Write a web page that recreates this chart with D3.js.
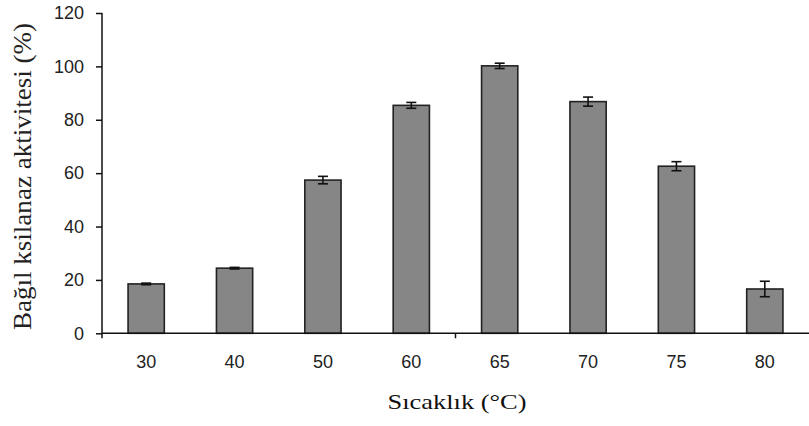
<!DOCTYPE html>
<html><head><meta charset="utf-8">
<script src="https://cdn.jsdelivr.net/npm/d3@7"></script>
<style>body{margin:0;background:#fff}</style>
</head><body>
<svg id="c" width="809" height="426"></svg>
<script>
const categories = ["30","40","50","60","65","70","75","80"];
const values = [18.5, 24.4, 57.4, 85.4, 100.2, 86.8, 62.6, 16.6];
const errors = [0.3, 0.3, 1.4, 1.1, 1.0, 1.7, 1.7, 2.9];
const yTicks = [0, 20, 40, 60, 80, 100, 120];
const xTitle = "Sıcaklık (°C)";
const yTitle = "Bağıl ksilanaz aktivitesi (%)";

const svg = d3.select("#c");
const L = 102, R = 809, T = 13, B = 333.3;
const x = d3.scaleBand().domain(categories).range([L, R]).paddingInner(0.59).paddingOuter(0.295);
const y = d3.scaleLinear().domain([0, 120]).range([B, T]);

// bars
svg.append("g").selectAll("rect").data(values).join("rect")
  .attr("x", (d,i) => x(categories[i]))
  .attr("y", d => y(d))
  .attr("width", x.bandwidth())
  .attr("height", d => y(0) - y(d))
  .attr("fill", "#868686").attr("stroke", "#222").attr("stroke-width", 1.6);

// error bars
const eb = svg.append("g").attr("stroke", "#111").attr("stroke-width", 1.6);
values.forEach((v,i) => {
  const cx = x(categories[i]) + x.bandwidth()/2;
  eb.append("line").attr("x1", cx).attr("x2", cx).attr("y1", y(v+errors[i])).attr("y2", y(v-errors[i]));
  eb.append("line").attr("x1", cx-5).attr("x2", cx+5).attr("y1", y(v+errors[i])).attr("y2", y(v+errors[i]));
  eb.append("line").attr("x1", cx-5).attr("x2", cx+5).attr("y1", y(v-errors[i])).attr("y2", y(v-errors[i]));
});

// y axis
const yAxis = d3.axisLeft(y).tickValues(yTicks).tickSize(6).tickPadding(12);
const gy = svg.append("g").attr("transform", `translate(${L},0)`).call(yAxis);
gy.select(".domain").remove();
gy.selectAll(".tick line").attr("stroke", "#111").attr("stroke-width", 1.5);
gy.selectAll("text").attr("font-family", "Liberation Sans, Arial, sans-serif").attr("font-size", 18).attr("fill", "#222");
svg.append("line").attr("x1", L).attr("x2", L).attr("y1", T).attr("y2", B + 5).attr("stroke", "#111").attr("stroke-width", 1.5);

// x axis
const xAxis = d3.axisBottom(x).tickSize(0).tickPadding(22);
const gx = svg.append("g").attr("transform", `translate(0,${B})`).call(xAxis);
gx.select(".domain").remove();
gx.selectAll("text").attr("font-family", "Liberation Sans, Arial, sans-serif").attr("font-size", 18).attr("fill", "#222");
svg.append("line").attr("x1", L).attr("x2", R).attr("y1", B).attr("y2", B).attr("stroke", "#111").attr("stroke-width", 1.5);
const step = x.step();
const mid = x(categories[4]) - x.paddingInner() * step / 2;
svg.append("line").attr("x1", mid).attr("x2", mid).attr("y1", B).attr("y2", B + 5).attr("stroke", "#111").attr("stroke-width", 1.5);

// titles
svg.append("text").attr("x", 457).attr("y", 409).attr("text-anchor", "middle")
  .attr("font-family", "Liberation Serif, Times New Roman, serif").attr("font-size", 22).attr("fill", "#111")
  .attr("textLength", 139).attr("lengthAdjust", "spacingAndGlyphs").text(xTitle);
svg.append("text").attr("transform", "translate(31,176.5) rotate(-90)").attr("text-anchor", "middle")
  .attr("font-family", "Liberation Serif, Times New Roman, serif").attr("font-size", 26).attr("fill", "#222")
  .attr("textLength", 307).attr("lengthAdjust", "spacingAndGlyphs").text(yTitle);
</script>
</body></html>
